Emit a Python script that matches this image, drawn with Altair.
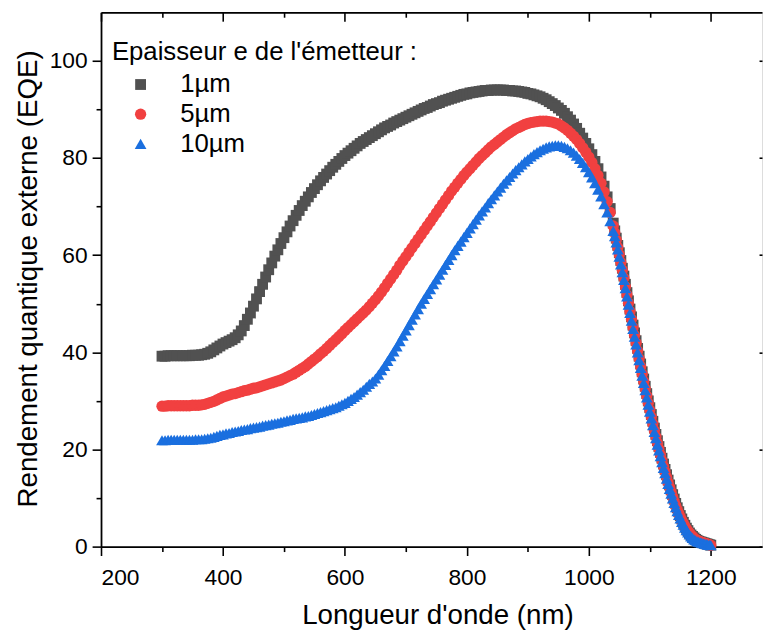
import altair as alt
import pandas as pd

# wavelength grid (nm): 5 nm steps up to 1035 nm, then 2.5 nm steps on the steep fall
wavelength = list(range(300, 1040, 5)) + [1040 + 2.5 * i for i in range(65)]

series_names = ["1µm", "5µm", "10µm"]

eqe_1um = [
    39.2, 39.2, 39.3, 39.3, 39.3, 39.3, 39.3, 39.3, 39.3, 39.3,
    39.4, 39.4, 39.4, 39.5, 39.6, 39.8, 40.1, 40.5, 40.9, 41.3,
    41.7, 42.0, 42.3, 42.6, 43.0, 43.6, 44.4, 45.5, 46.8, 48.1,
    49.5, 51.0, 52.5, 54.0, 55.5, 57.0, 58.4, 59.8, 61.1, 62.4,
    63.6, 64.8, 66.0, 67.1, 68.2, 69.2, 70.2, 71.1, 72.0, 72.9,
    73.7, 74.5, 75.3, 76.0, 76.7, 77.4, 78.1, 78.7, 79.3, 79.9,
    80.5, 81.0, 81.5, 82.0, 82.5, 83.0, 83.4, 83.8, 84.2, 84.6,
    85.0, 85.4, 85.8, 86.2, 86.5, 86.8, 87.2, 87.5, 87.8, 88.1,
    88.4, 88.7, 89.0, 89.3, 89.6, 89.9, 90.2, 90.4, 90.7, 91.0,
    91.2, 91.4, 91.7, 91.9, 92.1, 92.3, 92.5, 92.7, 92.9, 93.1,
    93.2, 93.4, 93.5, 93.6, 93.7, 93.8, 93.9, 93.9, 94.0, 94.0,
    94.0, 94.0, 94.0, 93.9, 93.9, 93.8, 93.8, 93.7, 93.6, 93.5,
    93.3, 93.2, 93.0, 92.8, 92.6, 92.3, 92.0, 91.6, 91.2, 90.8,
    90.3, 89.8, 89.2, 88.5, 87.8, 87.0, 86.1, 85.1, 84.1, 83.0,
    81.9, 80.7, 79.3, 77.8, 76.1, 74.2, 72.0, 69.6,
    # 1040 nm onward, 2.5 nm steps
    66.6, 65.0, 63.5, 62.0, 60.5, 58.9, 57.3, 55.7,
    54.0, 52.3, 50.6, 48.9, 47.3, 45.6, 44.0, 42.4,
    40.8, 39.2, 37.6, 36.0, 34.5, 33.0, 31.5, 30.0,
    28.6, 27.2, 25.8, 24.4, 23.1, 21.8, 20.6, 19.4,
    18.2, 17.0, 15.9, 14.8, 13.7, 12.7, 11.7, 10.7,
    9.8, 8.9, 8.0, 7.2, 6.4, 5.7, 5.0, 4.4,
    3.8, 3.3, 2.8, 2.4, 2.1, 1.8, 1.5, 1.3,
    1.1, 1.0, 0.9, 0.8, 0.7, 0.6, 0.5, 0.4,
    0.3,
]

eqe_5um = [
    28.9, 28.9, 29.0, 29.0, 29.0, 29.0, 29.0, 29.0, 29.0, 29.0,
    29.1, 29.1, 29.1, 29.2, 29.3, 29.5, 29.7, 29.9, 30.2, 30.5,
    30.8, 31.0, 31.2, 31.4, 31.5, 31.7, 31.9, 32.1, 32.2, 32.4,
    32.6, 32.7, 32.9, 33.1, 33.3, 33.5, 33.7, 33.9, 34.1, 34.3,
    34.6, 34.9, 35.2, 35.5, 35.9, 36.3, 36.7, 37.1, 37.6, 38.1,
    38.6, 39.1, 39.7, 40.2, 40.8, 41.4, 42.0, 42.6, 43.2, 43.8,
    44.5, 45.1, 45.7, 46.3, 46.9, 47.5, 48.1, 48.7, 49.4, 50.1,
    50.8, 51.6, 52.4, 53.3, 54.2, 55.1, 56.0, 56.9, 57.9, 58.8,
    59.7, 60.6, 61.5, 62.4, 63.3, 64.2, 65.1, 66.0, 66.9, 67.8,
    68.7, 69.6, 70.5, 71.4, 72.3, 73.2, 74.0, 74.8, 75.6, 76.4,
    77.1, 77.8, 78.5, 79.2, 79.9, 80.5, 81.1, 81.7, 82.3, 82.8,
    83.3, 83.8, 84.3, 84.8, 85.2, 85.6, 86.0, 86.3, 86.6, 86.9,
    87.1, 87.3, 87.4, 87.5, 87.6, 87.6, 87.6, 87.5, 87.4, 87.2,
    87.0, 86.6, 86.2, 85.7, 85.1, 84.5, 83.8, 83.0, 82.1, 81.2,
    80.2, 79.1, 77.8, 76.4, 74.8, 73.0, 71.0, 68.8,
    # 1040 nm onward, 2.5 nm steps
    66.0, 64.6, 63.1, 61.6, 60.1, 58.5, 56.9, 55.3,
    53.5, 51.8, 50.1, 48.4, 46.8, 45.1, 43.5, 41.9,
    40.3, 38.7, 37.1, 35.5, 34.0, 32.5, 31.0, 29.5,
    28.1, 26.7, 25.3, 23.9, 22.6, 21.3, 20.1, 18.9,
    17.7, 16.5, 15.4, 14.3, 13.2, 12.2, 11.2, 10.2,
    9.3, 8.4, 7.6, 6.8, 6.1, 5.4, 4.8, 4.2,
    3.7, 3.2, 2.8, 2.4, 2.1, 1.8, 1.5, 1.3,
    1.2, 1.0, 0.9, 0.8, 0.7, 0.6, 0.5, 0.4,
    0.3,
]

eqe_10um = [
    21.9, 21.9, 22.0, 22.0, 22.0, 22.0, 22.0, 22.0, 22.0, 22.0,
    22.0, 22.1, 22.1, 22.1, 22.2, 22.3, 22.4, 22.6, 22.8, 23.0,
    23.1, 23.3, 23.4, 23.6, 23.7, 23.8, 24.0, 24.1, 24.2, 24.4,
    24.5, 24.6, 24.7, 24.9, 25.0, 25.1, 25.3, 25.4, 25.5, 25.7,
    25.8, 26.0, 26.1, 26.3, 26.4, 26.5, 26.6, 26.8, 26.9, 27.1,
    27.3, 27.5, 27.7, 27.9, 28.1, 28.3, 28.5, 28.7, 29.0, 29.3,
    29.6, 30.0, 30.4, 30.8, 31.3, 31.8, 32.3, 32.9, 33.5, 34.0,
    34.6, 35.4, 36.3, 37.2, 38.2, 39.2, 40.2, 41.2, 42.3, 43.4,
    44.5, 45.6, 46.7, 47.8, 48.9, 50.0, 51.0, 52.0, 53.0, 54.0,
    55.0, 56.0, 57.0, 58.0, 59.0, 60.0, 61.0, 61.9, 62.8, 63.7,
    64.6, 65.5, 66.4, 67.3, 68.2, 69.0, 69.8, 70.7, 71.5, 72.3,
    73.1, 73.9, 74.7, 75.4, 76.1, 76.8, 77.5, 78.1, 78.7, 79.3,
    79.8, 80.3, 80.8, 81.2, 81.6, 81.9, 82.2, 82.4, 82.5, 82.6,
    82.6, 82.5, 82.3, 82.0, 81.6, 81.1, 80.5, 79.8, 79.0, 78.1,
    77.1, 76.0, 74.8, 73.5, 72.1, 70.5, 68.8, 67.0,
    # 1040 nm onward, 2.5 nm steps
    65.0, 63.9, 62.6, 61.2, 59.7, 58.1, 56.5, 54.9,
    53.2, 51.5, 49.8, 48.1, 46.5, 44.8, 43.2, 41.6,
    40.0, 38.4, 36.8, 35.2, 33.7, 32.2, 30.7, 29.2,
    27.8, 26.4, 25.0, 23.6, 22.3, 21.0, 19.8, 18.6,
    17.4, 16.2, 15.1, 14.0, 12.9, 11.9, 10.9, 9.9,
    9.0, 8.1, 7.3, 6.5, 5.8, 5.1, 4.5, 3.9,
    3.4, 2.9, 2.5, 2.1, 1.8, 1.5, 1.3, 1.1,
    1.0, 0.9, 0.8, 0.7, 0.6, 0.5, 0.4, 0.35,
    0.3,
]

colors = ["#515151", "#F14040", "#1A6FDF"]
shapes = ["square", "circle", "triangle-up"]
marker_sizes = [120, 140, 240]

x_major = [200, 400, 600, 800, 1000, 1200]
x_minor = [300, 500, 700, 900, 1100]
y_major = [0, 20, 40, 60, 80, 100]
y_minor = [10, 30, 50, 70, 90]

rows = []
for k, (name, vals) in enumerate(zip(series_names, [eqe_1um, eqe_5um, eqe_10um])):
    for w, v in zip(wavelength, vals):
        rows.append({"wl": w, "eqe": v, "serie": name, "ord": k})
df = pd.DataFrame(rows)

FONT = "Liberation Sans"
W, H = 668, 540
XDOM = [200, 1284]
YDOM = [0, 110]

xs = alt.Scale(domain=XDOM, nice=False, zero=False)
ys = alt.Scale(domain=YDOM, nice=False, zero=False)

legend = alt.Legend(
    title="Epaisseur e de l'émetteur :", orient="none",
    legendX=11, legendY=27, padding=0, titleLimit=600, labelLimit=300,
    titleFontSize=26, titleFont=FONT, titleFontWeight="normal",
    titleColor="black", titlePadding=7,
    labelFontSize=26, labelFont=FONT, labelColor="black",
    symbolOffset=16, labelOffset=27,
    rowPadding=4, symbolStrokeWidth=0, symbolOpacity=1)

points = alt.Chart(df).mark_point(filled=True, opacity=1, strokeWidth=0).encode(
    x=alt.X("wl:Q", scale=xs, axis=alt.Axis(
        orient="bottom", values=x_major + x_minor, title="Longueur d'onde (nm)", format="d",
        labelExpr="datum.value % 200 === 0 ? datum.label : ''",
        tickSize={"condition": {"test": "datum.value % 200 === 0", "value": 9}, "value": 5},
        tickWidth=1.6, tickColor="black", domainColor="black", domainWidth=1.8,
        labelFontSize=23, labelFont=FONT, labelColor="black", labelPadding=11,
        titleFontSize=28, titleFont=FONT, titleFontWeight="normal", titleColor="black",
        titleX=340, titleY=78, titleBaseline="alphabetic", titleAlign="center",
        grid=False)),
    y=alt.Y("eqe:Q", scale=ys, axis=alt.Axis(
        orient="left", values=y_major + y_minor, title="Rendement quantique externe (EQE)",
        format="d",
        labelExpr="datum.value % 20 === 0 ? datum.label : ''",
        tickSize={"condition": {"test": "datum.value % 20 === 0", "value": 9}, "value": 5},
        tickWidth=1.6, tickColor="black", domainColor="black", domainWidth=1.8,
        labelFontSize=23, labelFont=FONT, labelColor="black", labelPadding=5,
        titleFontSize=28, titleFont=FONT, titleFontWeight="normal", titleColor="black",
        titleX=-65, titleY=269, titleBaseline="alphabetic", titleAlign="center",
        titleAngle=270, grid=False)),
    color=alt.Color("serie:N", sort=series_names,
                    scale=alt.Scale(domain=series_names, range=colors), legend=legend),
    shape=alt.Shape("serie:N", sort=series_names,
                    scale=alt.Scale(domain=series_names, range=shapes), legend=legend),
    size=alt.Size("serie:N", sort=series_names,
                  scale=alt.Scale(domain=series_names, range=marker_sizes), legend=legend),
    order=alt.Order("ord:Q"),
)

# top axis (inward ticks) and right-side tick stubs
top_axis = alt.Chart(df).mark_point(opacity=0).encode(
    x=alt.X("wl:Q", scale=xs, axis=alt.Axis(
        orient="bottom", offset=-H, values=x_major + x_minor, labels=False, title=None,
        tickSize={"condition": {"test": "datum.value % 200 === 0", "value": 9}, "value": 5},
        tickWidth=1.6, tickColor="black", domainColor="black", domainWidth=1.8, grid=False)),
    y=alt.Y("eqe:Q", scale=ys, axis=alt.Axis(
        orient="left", offset=-W, values=y_major, labels=False, title=None,
        domain=False, tickSize=3, tickWidth=1.6, tickColor="black", grid=False)),
)

chart = alt.layer(points, top_axis).resolve_axis(x="independent", y="independent").properties(
    width=W, height=H,
    autosize=alt.AutoSizeParams(type="none"),
    padding={"left": 94, "top": 1, "right": 1, "bottom": 86},
).configure_view(strokeWidth=0).configure(background="white")

chart.save("out.html", embed_options={"renderer": "svg", "actions": False})
